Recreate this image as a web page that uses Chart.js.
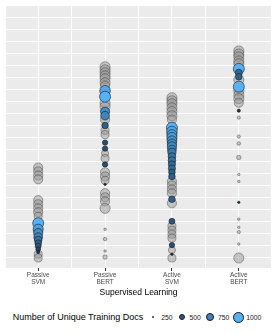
<!DOCTYPE html>
<html>
<head>
<meta charset="utf-8">
<script src="https://cdn.jsdelivr.net/npm/chart.js@4.4.1/dist/chart.umd.min.js"></script>
<style>
  html, body { margin: 0; padding: 0; background: #fff; }
  #wrap { position: relative; width: 277px; height: 332px; font-family: "Liberation Sans", Arial, sans-serif; }
  #legend { position: absolute; left: 0; top: 307px; width: 277px; height: 20px;
            display: flex; justify-content: center; align-items: center; color: #000; }
  #legend .title { font-size: 9px; margin-right: 4px; }
  #legend .key { width: 12px; height: 12px; display: flex; justify-content: center; align-items: center; }
  #legend .lab { font-size: 6.8px; margin: 0 3px 0 2px; color: #1a1a1a; }
</style>
</head>
<body>
<div id="wrap">
  <canvas id="scoreChart" width="277" height="298"></canvas>
  <div id="legend"></div>
</div>
<script>
  // categories along x
  const categories = ['Passive SVM', 'Passive BERT', 'Active SVM', 'Active BERT'];
  const docLevels = [250, 500, 750, 1000];
  const yTicks = [0, 5, 10, 15, 20, 25, 30, 35, 40, 45, 50, 55, 60, 65, 70, 75, 80, 85, 90, 95, 100];

  // runs filled by doc count (one list per category)
  const filledScores = [
    [14.1, 11.6, 10.0, 8.3, 7.1, 5.8, 4.6, 3.3, 2.1],
    [69.3, 66.8, 60.6, 58.9, 54.8, 47.7, 45.2, 38.6, 30.3],
    [53.9, 52.3, 51.0, 49.8, 48.5, 47.3, 46.1, 44.8, 43.6, 41.9, 40.2, 38.6, 36.9, 35.3, 33.6, 24.1, 14.9, 5.0, 1.2],
    [78.4, 76.8, 75.1, 71.0, 61.0, 22.8]
  ];
  const filledDocs = [
    [1000, 900, 800, 750, 650, 550, 500, 400, 300],
    [950, 1000, 800, 750, 550, 450, 450, 450, 250],
    [1000, 950, 900, 900, 850, 800, 800, 750, 700, 650, 650, 600, 600, 550, 550, 550, 500, 450, 250],
    [1000, 600, 550, 1000, 300, 250]
  ];

  // grey runs
  const greyScores = [
    [37.3, 35.7, 34.0, 32.4, 23.7, 22.0, 20.3, 18.7, 17.0, 1.2, -0.4],
    [79.3, 78.0, 76.8, 75.5, 74.3, 72.6, 71.4, 64.3, 62.7, 57.3, 52.7, 51.0, 43.2, 41.1, 35.3, 33.6, 32.0, 26.6, 24.9, 23.2, 20.3, 11.6, 7.5, 2.5, 0.0],
    [66.4, 65.1, 63.9, 62.2, 60.6, 58.9, 57.3, 31.5, 29.9, 28.2, 26.6, 22.4, 12.9, 11.2, 9.5, 7.9, 2.9, -0.4],
    [85.9, 84.6, 83.4, 81.7, 80.5, 73.9, 69.3, 67.6, 66.0, 64.3, 58.1, 50.2, 47.3, 41.5, 34.4, 31.5, 15.8, 12.4, 10.4, 5.4, -0.4]
  ];
  const greyDocs = [
    [800, 800, 800, 800, 800, 800, 800, 800, 690, 690, 690],
    [900, 900, 900, 900, 900, 900, 800, 900, 900, 800, 690, 690, 600, 690, 800, 800, 690, 800, 800, 800, 900, 255, 320, 255, 380],
    [900, 900, 900, 900, 900, 900, 800, 800, 800, 800, 800, 800, 690, 690, 690, 690, 600, 690],
    [900, 900, 900, 900, 900, 900, 900, 900, 900, 800, 300, 300, 320, 380, 255, 255, 255, 255, 300, 255, 900]
  ];

  // size: area scale, 250 -> small dot, 1000 -> big
  function docRadius(d) {
    const lo = Math.sqrt(250), hi = Math.sqrt(1000);
    return 1.2 + (Math.sqrt(d) - lo) / (hi - lo) * 4.3;
  }

  // fill: #132B43 -> #56B1F7
  function docColor(d) {
    const t = Math.max(0, Math.min(1, (d - 250) / 750));
    const a = [0x13, 0x2b, 0x43], b = [0x56, 0xb1, 0xf7];
    const c = a.map((v, i) => Math.round(v + (b[i] - v) * t));
    return `rgb(${c[0]}, ${c[1]}, ${c[2]})`;
  }

  function buildPoints(scores, docs) {
    const pts = [];
    scores.forEach((list, ci) => {
      list.forEach((y, j) => {
        pts.push({ x: ci + 1, y: y, r: docRadius(docs[ci][j]), docs: docs[ci][j] });
      });
    });
    return pts;
  }

  const filledPoints = buildPoints(filledScores, filledDocs);
  const greyPoints = buildPoints(greyScores, greyDocs);

  // grey panel behind the grid
  const panelBg = {
    id: 'panelBg',
    beforeDraw(chart) {
      const { ctx, chartArea: a } = chart;
      ctx.save();
      ctx.fillStyle = '#ffffff';
      ctx.fillRect(0, 0, chart.width, chart.height);
      ctx.fillStyle = '#EBEBEB';
      ctx.fillRect(a.left, a.top, a.right - a.left, a.bottom - a.top);
      ctx.restore();
    }
  };

  const chart = new Chart(document.getElementById('scoreChart'), {
    type: 'bubble',
    data: {
      datasets: [
        {
          label: 'Number of Unique Training Docs',
          data: filledPoints,
          backgroundColor: filledPoints.map(p => docColor(p.docs)),
          borderColor: '#1a1a1a',
          borderWidth: 0.6
        },
        {
          label: 'Other runs',
          data: greyPoints,
          backgroundColor: 'rgba(150, 150, 150, 0.5)',
          borderColor: 'rgba(50, 50, 50, 0.6)',
          borderWidth: 0.7
        }
      ]
    },
    options: {
      responsive: false,
      animation: false,
      events: [],
      layout: { padding: { left: 6, right: 5, top: 5, bottom: 0 } },
      plugins: {
        legend: { display: false },
        tooltip: { enabled: false }
      },
      scales: {
        x: {
          type: 'linear',
          min: 0.52,
          max: 4.48,
          afterBuildTicks: axis => {
            axis.ticks = [1, 1.5, 2, 2.5, 3, 3.5, 4].map(v => ({ value: v }));
          },
          afterFit: axis => { axis.height = 30; },
          grid: {
            color: '#ffffff',
            lineWidth: 1,
            tickLength: 3,
            tickColor: ctx => Number.isInteger(ctx.tick.value) ? '#333333' : 'rgba(0,0,0,0)'
          },
          border: { display: false },
          ticks: {
            autoSkip: false,
            maxRotation: 0,
            padding: 1,
            color: '#4D4D4D',
            font: { family: 'Liberation Sans', size: 6.5, lineHeight: 1.05 },
            callback: v => Number.isInteger(v) ? categories[v - 1].split(' ') : ''
          },
          title: {
            display: true,
            text: 'Supervised Learning',
            color: '#000000',
            font: { family: 'Liberation Sans', size: 8.5 },
            padding: { top: 1, bottom: 0 }
          }
        },
        y: {
          min: -4.56,
          max: 104.56,
          afterBuildTicks: axis => {
            axis.ticks = yTicks.map(v => ({ value: v }));
          },
          afterFit: axis => { axis.width = 0; },
          grid: { color: '#ffffff', lineWidth: 1, drawTicks: false },
          border: { display: false },
          ticks: { display: false }
        }
      }
    },
    plugins: [panelBg]
  });

  // legend row under the chart
  const legend = document.getElementById('legend');
  const title = document.createElement('span');
  title.className = 'title';
  title.textContent = 'Number of Unique Training Docs';
  legend.appendChild(title);
  docLevels.forEach(d => {
    const key = document.createElement('span');
    key.className = 'key';
    const dot = document.createElement('span');
    const r = docRadius(d);
    dot.style.cssText = `display:block;width:${2 * r}px;height:${2 * r}px;border-radius:50%;` +
      `background:${docColor(d)};border:0.6px solid #1a1a1a;box-sizing:border-box;`;
    key.appendChild(dot);
    const lab = document.createElement('span');
    lab.className = 'lab';
    lab.textContent = d;
    legend.appendChild(key);
    legend.appendChild(lab);
  });
</script>
</body>
</html>
